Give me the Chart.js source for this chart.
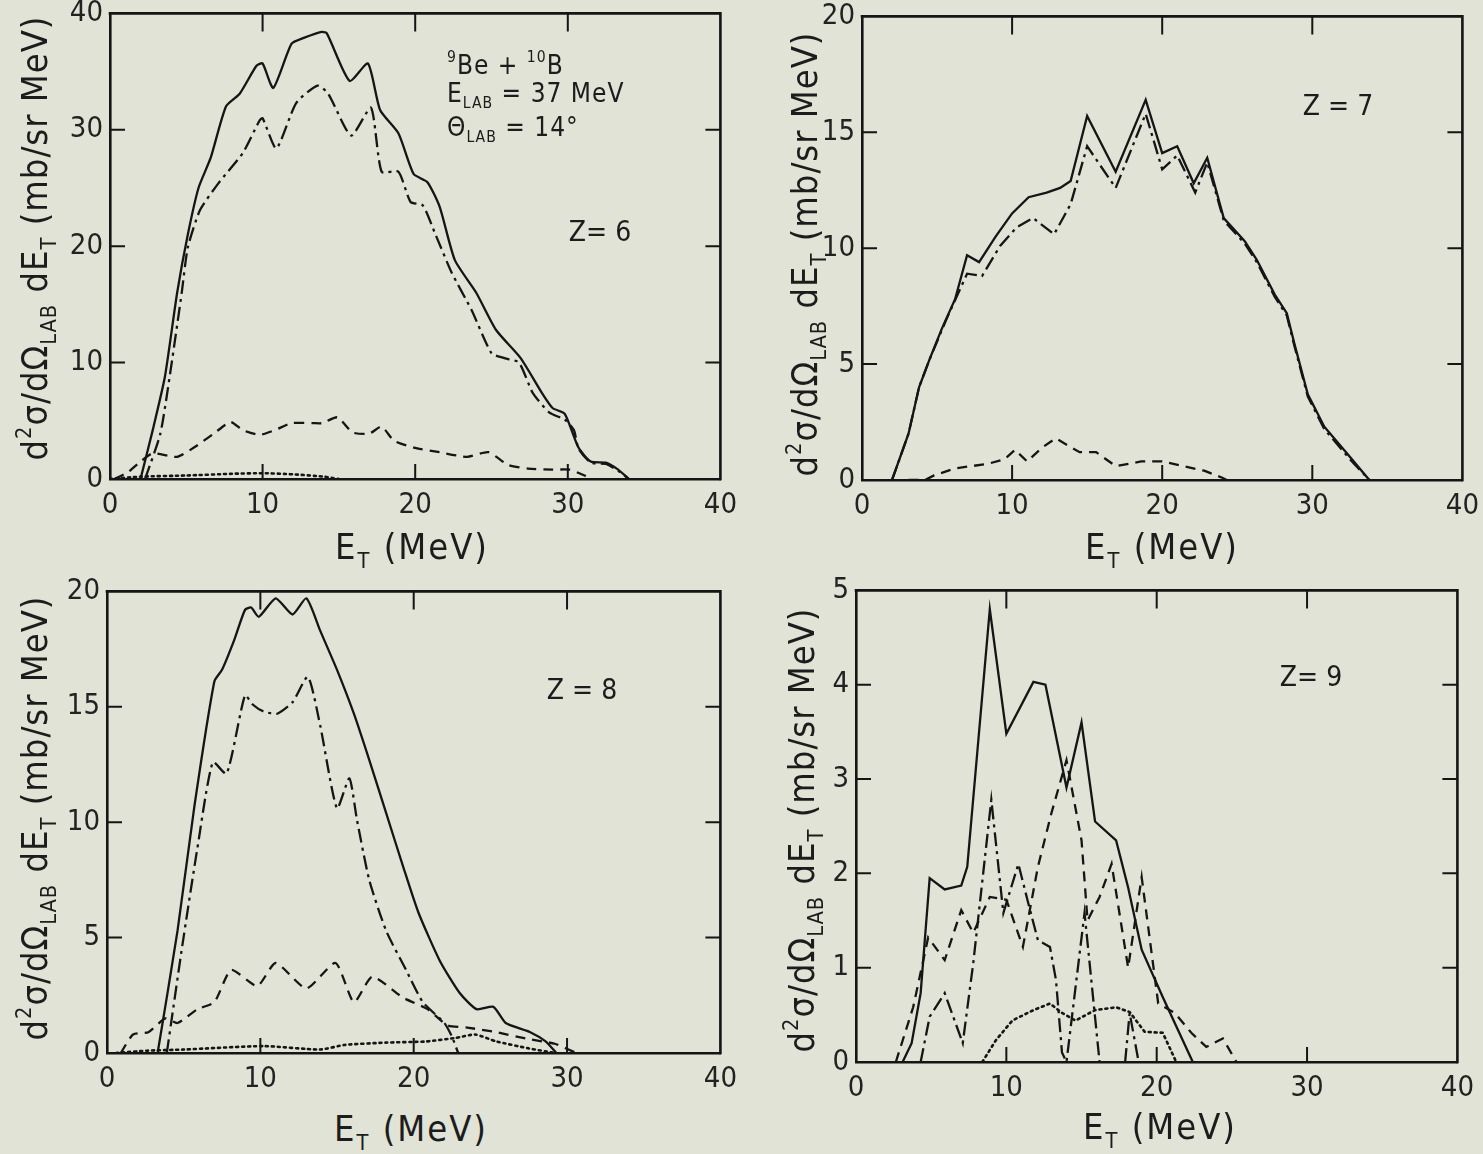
<!DOCTYPE html>
<html>
<head>
<meta charset="utf-8">
<script src="https://cdn.jsdelivr.net/npm/chart.js@4.4.1/dist/chart.umd.min.js"></script>
<style>
  html, body { margin: 0; padding: 0; width: 1483px; height: 1154px; overflow: hidden; background: #e0e3d5; }
  canvas { position: absolute; }
  .lbl { position: absolute; font-family: 'DejaVu Sans Condensed', 'Liberation Sans Narrow', 'DejaVu Sans', sans-serif;
         color: #1c1c1c; white-space: nowrap; line-height: 1; }
  .ytitle { font-size: 36px; letter-spacing: 1px; transform: translate(-50%, -50%) rotate(-90deg); }
  .xtitle { font-size: 36px; letter-spacing: 2px; transform: translate(-50%, -50%); }
  .zlab { font-size: 28px; transform: translate(-50%, -50%); }
  .note { font-size: 26px; letter-spacing: 1px; transform: translateY(-50%); }
  sub { font-size: 0.6em; vertical-align: -0.4em; }
  sup { font-size: 0.6em; vertical-align: 0.75em; }
</style>
</head>
<body>
<canvas id="c6"></canvas>
<canvas id="c7"></canvas>
<canvas id="c8"></canvas>
<canvas id="c9"></canvas>

<!-- axis titles -->
<div class="lbl ytitle" style="left:36px;top:238px">d<sup>2</sup>σ/dΩ<sub>LAB</sub> dE<sub>T</sub> (mb/sr MeV)</div>
<div class="lbl ytitle" style="left:806px;top:254px">d<sup>2</sup>σ/dΩ<sub>LAB</sub> dE<sub>T</sub> (mb/sr MeV)</div>
<div class="lbl ytitle" style="left:36px;top:818px">d<sup>2</sup>σ/dΩ<sub>LAB</sub> dE<sub>T</sub> (mb/sr MeV)</div>
<div class="lbl ytitle" style="left:803px;top:830px">d<sup>2</sup>σ/dΩ<sub>LAB</sub> dE<sub>T</sub> (mb/sr MeV)</div>

<div class="lbl xtitle" style="left:412px;top:550px">E<sub>T</sub> (MeV)</div>
<div class="lbl xtitle" style="left:1162px;top:550px">E<sub>T</sub> (MeV)</div>
<div class="lbl xtitle" style="left:411px;top:1132px">E<sub>T</sub> (MeV)</div>
<div class="lbl xtitle" style="left:1160px;top:1130px">E<sub>T</sub> (MeV)</div>

<!-- panel notes -->
<div class="lbl note" style="left:447px;top:64px"><sup>9</sup>Be + <sup>10</sup>B</div>
<div class="lbl note" style="left:447px;top:96px">E<sub>LAB</sub> = 37 MeV</div>
<div class="lbl note" style="left:447px;top:130px">Θ<sub>LAB</sub> = 14°</div>
<div class="lbl zlab" style="left:600px;top:232px">Z= 6</div>
<div class="lbl zlab" style="left:1338px;top:106px">Z = 7</div>
<div class="lbl zlab" style="left:582px;top:690px">Z = 8</div>
<div class="lbl zlab" style="left:1311px;top:677px">Z= 9</div>

<script>
// ── data: [E_T (MeV), d2sigma (mb/sr MeV)] ──
// Z = 6
const z6Total = [[2.0,0],[2.8,4.2],[3.6,8.8],[4.4,16],[5.1,21],[5.8,25],[6.6,27.6],[7.6,32],[8.5,33.1],[9.6,35.5],[10.0,35.7],
  [10.7,33.6],[11.9,37.4],[12.7,37.9],[13.8,38.4],[14.2,38.3],[15.7,34.2],[16.9,35.7],[17.7,31.7],[18.9,29.7],[19.9,26.2],
  [20.8,25.5],[21.6,23.4],[22.6,18.8],[24.0,16],[25.3,12.8],[26.9,10.4],[28.3,7.4],[29.0,6.1],[29.8,5.6],[30.7,2.7],
  [31.5,1.5],[32.5,1.4],[33.3,0.8],[34.0,0]];
const z6DashDot = [[2.3,0],[3.3,3.9],[4.0,9.6],[4.7,16],[5.1,19.9],[5.9,23.1],[7.1,25.4],[8.7,28],[9.8,30.8],[10.0,31],
  [10.9,28.4],[12.2,32.3],[13.6,33.8],[14.3,33.1],[15.8,29.5],[17.1,31.9],[17.8,26.4],[18.9,26.4],[19.7,23.8],[20.5,23.5],
  [21.3,21.1],[22.4,17.7],[23.7,14.5],[25.0,10.8],[25.8,10.4],[26.8,10.0],[27.7,7.4],[28.8,5.7],[29.8,5.1],[30.4,4.2],
  [30.7,2.6],[31.5,1.4],[32.5,1.3],[33.3,0.7],[34.0,0]];
const z6Dashed = [[0.3,0],[1.2,0.6],[2.0,1.5],[2.8,2.2],[4.4,1.9],[5.5,2.7],[6.8,3.9],[7.9,4.9],[8.7,4.2],[9.8,3.8],
  [10.8,4.2],[11.9,4.8],[13.3,4.8],[13.9,4.8],[14.9,5.3],[15.9,4.0],[17.0,3.9],[17.8,4.5],[18.6,3.3],[19.9,2.7],
  [21.6,2.3],[23.4,1.9],[24.8,2.3],[26.1,1.2],[27.4,0.9],[29.0,0.8],[30.1,0.8],[31.1,0.3],[31.5,0]];
const z6Dotted = [[0,0],[2,0.2],[5,0.3],[8,0.45],[10,0.5],[12,0.4],[14,0.2],[15,0]];

// Z = 7
const z7Total = [[2.0,0],[3.1,2.0],[3.8,4.0],[4.5,5.2],[5.3,6.5],[6.2,7.8],[7.0,9.7],[7.8,9.4],[8.9,10.5],[10.0,11.5],
  [11.1,12.2],[12.3,12.4],[13.2,12.6],[13.9,12.9],[15.0,15.7],[16.9,13.3],[18.9,16.4],[20.0,14.1],[21.0,14.4],[22.1,12.8],
  [23.0,13.9],[24.1,11.3],[25.5,10.3],[26.3,9.5],[27.5,8.0],[28.3,7.2],[28.8,5.9],[29.7,3.7],[30.8,2.3],[32.5,1.0],[33.8,0]];
const z7DashDot = [[2.0,0],[3.1,2.0],[3.8,4.0],[4.5,5.2],[5.6,6.9],[7.0,8.9],[8.0,8.8],[9.2,10.1],[10.3,10.9],[11.4,11.3],
  [12.8,10.6],[13.9,11.9],[15.0,14.4],[16.9,12.6],[18.9,15.8],[20.0,13.4],[21.0,14.0],[22.2,12.4],[23.0,13.7],[24.1,11.2],
  [25.5,10.2],[26.3,9.4],[27.5,7.9],[28.3,7.1],[28.8,5.8],[29.7,3.6],[30.8,2.2],[32.5,0.9],[33.8,0]];
const z7Dashed = [[3.1,0],[4.2,0],[4.8,0.2],[6.2,0.5],[8.4,0.7],[9.5,0.9],[10.2,1.3],[11.0,0.8],[12.0,1.4],[12.9,1.8],
  [14.5,1.2],[15.6,1.2],[16.9,0.6],[18.6,0.8],[20.0,0.8],[21.4,0.6],[22.8,0.4],[24.0,0.1],[24.3,0]];

// Z = 8
const z8Total = [[3.3,0],[4.6,5.3],[5.7,10.7],[7.0,16.1],[7.5,16.6],[8.3,17.9],[9.0,19.2],[9.4,19.3],[9.9,18.9],[11.0,19.7],
  [12.1,19.0],[13.0,19.7],[13.9,18.3],[15.0,16.6],[16.1,14.7],[17.1,12.7],[18.2,10.4],[19.3,8.1],[20.3,6.1],[21.7,4.0],
  [23.0,2.6],[24.1,1.9],[25.2,2.0],[26.0,1.3],[27.6,0.9],[28.6,0.5],[29.3,0]];
const z8DashDot = [[3.9,0],[4.9,4.6],[5.9,8.9],[6.9,12.6],[7.8,12.1],[9.0,15.5],[9.5,15.1],[10.2,14.8],[11.1,14.7],
  [12.1,15.2],[13.1,16.3],[13.9,14.2],[15.0,10.6],[15.8,11.9],[16.3,10.1],[17.1,7.5],[18.2,5.3],[19.5,3.6],[20.6,2.2],
  [22.0,1.3],[22.5,0.7],[22.9,0]];
const z8Dashed = [[0.9,0],[1.7,0.8],[2.7,0.9],[3.8,1.5],[4.6,1.3],[5.9,1.9],[7.0,2.2],[8.1,3.6],[9.8,2.9],[11.0,3.9],
  [13.0,2.8],[14.9,3.9],[16.1,2.2],[17.3,3.3],[19.3,2.4],[20.9,1.9],[22.2,1.2],[23.5,1.1],[25.4,0.9],[27.5,0.6],
  [29.2,0.4],[30.6,0]];
const z8Dotted = [[0.6,0],[2.6,0.1],[5,0.15],[10.2,0.3],[13.9,0.15],[15.5,0.35],[18.2,0.45],[20.8,0.5],[22.7,0.65],
  [24.0,0.8],[25.4,0.5],[27.5,0.2],[29.2,0]];

// Z = 9
const z9Total = [[3.1,0],[3.7,0.2],[4.3,0.73],[4.9,1.95],[5.9,1.83],[7.0,1.87],[7.4,2.07],[8.9,4.8],[10.0,3.48],[11.8,4.03],
  [12.6,4.0],[14.0,2.91],[15.0,3.6],[15.9,2.55],[17.3,2.35],[18.1,1.85],[19.0,1.19],[20.4,0.69],[21.5,0.31],[22.4,0]];
const z9DashDot = [[4.3,0],[4.9,0.48],[5.9,0.73],[7.1,0.2],[7.8,1.05],[9.0,2.78],[9.8,1.58],[10.8,2.1],[11.4,1.72],
  [12.1,1.29],[12.9,1.22],[13.3,0.87],[13.7,0.1],[14.0,0],[15.2,1.58],[16.2,0],[17.0,null],[17.9,0],[18.2,0.52],[18.8,0]];
const z9Dashed = [[2.65,0],[3.8,0.58],[4.8,1.32],[5.9,1.08],[7.0,1.61],[7.8,1.37],[8.9,1.75],[10.0,1.72],[11.1,1.22],
  [12.1,2.07],[13.0,2.64],[14.0,3.2],[15.0,2.35],[15.4,1.5],[16.2,1.75],[17.0,2.1],[18.1,1.0],[19.0,1.96],[20.1,0.62],
  [21.2,0.52],[22.3,0.31],[23.3,0.16],[24.4,0.25],[25.3,0]];
const z9Dotted = [[8.4,0],[9.3,0.23],[10.4,0.44],[11.8,0.55],[12.9,0.62],[13.7,0.52],[14.6,0.44],[15.9,0.55],[17.3,0.58],
  [18.2,0.53],[19.2,0.32],[20.4,0.31],[21.3,0]];

const xMax = 40, xStep = 10;

// ── drawing ──
const INK = '#151515';
const FONT = "'DejaVu Sans Condensed','Liberation Sans Narrow','DejaVu Sans',sans-serif";
const DASH = { solid: [], dashdot: [14, 5, 3, 5], dashed: [10, 7], dotted: [2, 4] };
const PADL = 62, PADT = 22, PADR = 24, XH = 54, TICK = 15;

const pts = arr => arr.map(p => ({ x: p[0], y: p[1] }));

// closes the frame on top/right and puts the tick marks inside on all four sides
const frameTicks = {
  id: 'frameTicks',
  afterDraw(chart) {
    const { ctx, chartArea: a, scales: { x, y } } = chart;
    ctx.save();
    ctx.strokeStyle = INK;
    ctx.lineWidth = 2.6;
    ctx.beginPath();
    ctx.moveTo(a.left - 1.3, a.top); ctx.lineTo(a.right, a.top); ctx.lineTo(a.right, a.bottom + 1.3);
    ctx.stroke();
    ctx.lineWidth = 2;
    ctx.beginPath();
    x.ticks.forEach(t => {
      if (t.value <= x.min || t.value >= x.max) return;
      const px = x.getPixelForValue(t.value);
      ctx.moveTo(px, a.bottom); ctx.lineTo(px, a.bottom - TICK);
      ctx.moveTo(px, a.top); ctx.lineTo(px, a.top + TICK + 3);
    });
    y.ticks.forEach(t => {
      if (t.value <= y.min || t.value >= y.max) return;
      const py = y.getPixelForValue(t.value);
      ctx.moveTo(a.left, py); ctx.lineTo(a.left + TICK, py);
      ctx.moveTo(a.right, py); ctx.lineTo(a.right - TICK, py);
    });
    ctx.stroke();
    ctx.restore();
  }
};

function axis(horiz, max, step) {
  return {
    type: 'linear', position: horiz ? 'bottom' : 'left', min: 0, max: max,
    afterFit: s => { if (horiz) s.height = XH; else s.width = PADL; },
    ticks: { stepSize: step, color: '#222', font: { family: FONT, size: 29 },
             padding: horiz ? 9 : 7, maxRotation: 0, autoSkip: false },
    grid: { display: false, drawTicks: false },
    border: { display: true, color: INK, width: 2.6 }
  };
}

function makePanel(id, box, yMax, yStep, tension, series) {
  const cv = document.getElementById(id);
  const w = box.r - box.l + PADL + PADR, h = box.b - box.t + PADT + XH;
  cv.width = w; cv.height = h;
  cv.style.width = w + 'px'; cv.style.height = h + 'px';
  const chart = new Chart(cv, {
    type: 'line',
    data: {
      datasets: series.map(([kind, data]) => ({
        data: pts(data), borderColor: INK, borderWidth: kind === 'dotted' ? 2.6 : 2.3,
        borderDash: DASH[kind], borderCapStyle: kind === 'dotted' ? 'round' : 'butt',
        pointRadius: 0, tension: tension, fill: false, spanGaps: false
      }))
    },
    options: {
      responsive: false, maintainAspectRatio: false, animation: false, devicePixelRatio: 1,
      layout: { padding: { top: PADT, right: PADR, left: 0, bottom: 0 } },
      plugins: { legend: { display: false }, tooltip: { enabled: false } },
      scales: { x: axis(true, xMax, xStep), y: axis(false, yMax, yStep) }
    },
    plugins: [frameTicks]
  });
  // grow the canvas so the plot area gets exactly the wanted size, then place it
  let ca = chart.chartArea;
  const nw = Math.round(w + (box.r - box.l) - (ca.right - ca.left));
  const nh = Math.round(h + (box.b - box.t) - (ca.bottom - ca.top));
  if (nw !== w || nh !== h) chart.resize(nw, nh);
  ca = chart.chartArea;
  cv.style.left = Math.round(box.l - ca.left) + 'px';
  cv.style.top = Math.round(box.t - ca.top) + 'px';
}

makePanel('c6', { l: 110, t: 13, r: 720, b: 479 }, 40, 10, 0.2,
  [['solid', z6Total], ['dashdot', z6DashDot], ['dashed', z6Dashed], ['dotted', z6Dotted]]);
makePanel('c7', { l: 862, t: 16, r: 1462, b: 480 }, 20, 5, 0,
  [['solid', z7Total], ['dashdot', z7DashDot], ['dashed', z7Dashed]]);
makePanel('c8', { l: 107, t: 591, r: 720, b: 1053 }, 20, 5, 0.2,
  [['solid', z8Total], ['dashdot', z8DashDot], ['dashed', z8Dashed], ['dotted', z8Dotted]]);
makePanel('c9', { l: 856, t: 590, r: 1457, b: 1062 }, 5, 1, 0,
  [['solid', z9Total], ['dashdot', z9DashDot], ['dashed', z9Dashed], ['dotted', z9Dotted]]);
</script>
</body>
</html>
